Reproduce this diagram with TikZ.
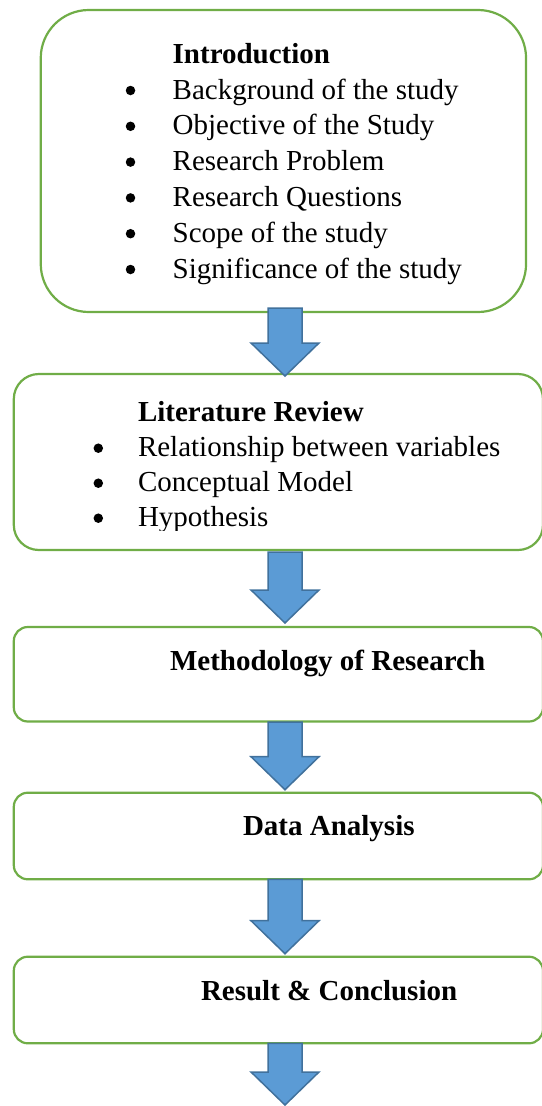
\documentclass[tikz,border=0pt]{standalone}
\usepackage{fontspec}
\setmainfont{Liberation Serif}
\usetikzlibrary{calc}
\definecolor{boxgreen}{HTML}{70AD47}
\definecolor{arrowfill}{HTML}{5B9BD5}
\definecolor{arrowline}{HTML}{41719C}
\tikzset{
  stagebox/.style={draw=boxgreen, line width=2.2pt, fill=white, rectangle, outer sep=0pt, inner sep=0pt},
  txt/.style={inner sep=0pt, outer sep=0pt, anchor=base west, font=\fontsize{29}{35.5}\selectfont},
  ttl/.style={txt, font=\fontsize{29}{35.5}\selectfont\bfseries},
  bul/.style={circle, fill=black, inner sep=0pt, outer sep=0pt, minimum size=9.5pt, yshift=8.5pt},
  barrow/.style={draw=arrowline, fill=arrowfill, line width=1.5pt, line join=miter}
}
\newcommand\blockarrow[4]{%
  \draw[barrow] ($(#1.south -| ax)+(-17,#3)$) -- ($(#1.south -| ax)+(17,#3)$)
   -- ($(#2.north -| ax)+(17,-33+#4)$) -- ($(#2.north -| ax)+(34,-33+#4)$)
   -- ($(#2.north -| ax)+(0,#4)$) -- ($(#2.north -| ax)+(-34,-33+#4)$)
   -- ($(#2.north -| ax)+(-17,-33+#4)$) -- cycle;}
\begin{document}
\begin{tikzpicture}[x=1pt,y=-1pt]
\useasboundingbox (0,0) rectangle (541,1106);
\coordinate (ax) at (285,0);
% boxes
\node[stagebox, rounded corners=48pt, minimum width=485.3pt, minimum height=302pt] (b1) at (283.4,161) {};
\node[stagebox, rounded corners=25pt, minimum width=529.2pt, minimum height=176pt] (b2) at (278.4,462) {};
\node[stagebox, rounded corners=14pt, minimum width=529.2pt, minimum height=94.5pt] (b3) at (278.4,674.25) {};
\node[stagebox, rounded corners=14pt, minimum width=529.2pt, minimum height=86.6pt] (b4) at (278.4,836) {};
\node[stagebox, rounded corners=14pt, minimum width=529.2pt, minimum height=86.6pt] (b5) at (278.4,1000) {};
% box 1 text
\node[ttl] (t1) at (172.7,63.3) {Introduction};
\node[bul] (p11) at (130.5,99) {};
\node[txt] (i11) at (172.7,99) {Background of the study};
\node[bul] (p12) at (130.5,134.8) {};
\node[txt] (i12) at (172.7,134.8) {Objective of the Study};
\node[bul] (p13) at (130.5,170.6) {};
\node[txt] (i13) at (172.7,170.6) {Research Problem};
\node[bul] (p14) at (130.5,206.4) {};
\node[txt] (i14) at (172.7,206.4) {Research Questions};
\node[bul] (p15) at (130.5,242.2) {};
\node[txt] (i15) at (172.7,242.2) {Scope of the study};
\node[bul] (p16) at (130.5,278) {};
\node[txt] (i16) at (172.7,278) {Significance of the study};
% box 2 text
\begin{scope}
\clip (0,380) rectangle (541,530.5);
\node[ttl] (t2) at (138,421.7) {Literature Review};
\node[bul] (p21) at (98.3,456.7) {};
\node[txt] (i21) at (138,456.7) {Relationship between variables};
\node[bul] (p22) at (98.3,491.7) {};
\node[txt] (i22) at (138,491.7) {Conceptual Model};
\node[bul] (p23) at (98.3,526.7) {};
\node[txt] (i23) at (138,526.7) {Hypothesis};
\end{scope}
% single-line boxes
\node[ttl] (t3) at (170,670) {Methodology of Research};
\node[ttl] (t4) at (243,835) {Data Analysis};
\node[ttl] (t5) at (201,1000) {Result \& Conclusion};
% arrows
\node[inner sep=0pt, outer sep=0pt, minimum size=0pt] (bend) at (285,1105) {};
\blockarrow{b1}{b2}{-4}{2}
\blockarrow{b2}{b3}{2}{-4}
\blockarrow{b3}{b4}{0.5}{-3}
\blockarrow{b4}{b5}{0}{-3}
\blockarrow{b5}{bend}{0}{0}
\end{tikzpicture}
\end{document}
